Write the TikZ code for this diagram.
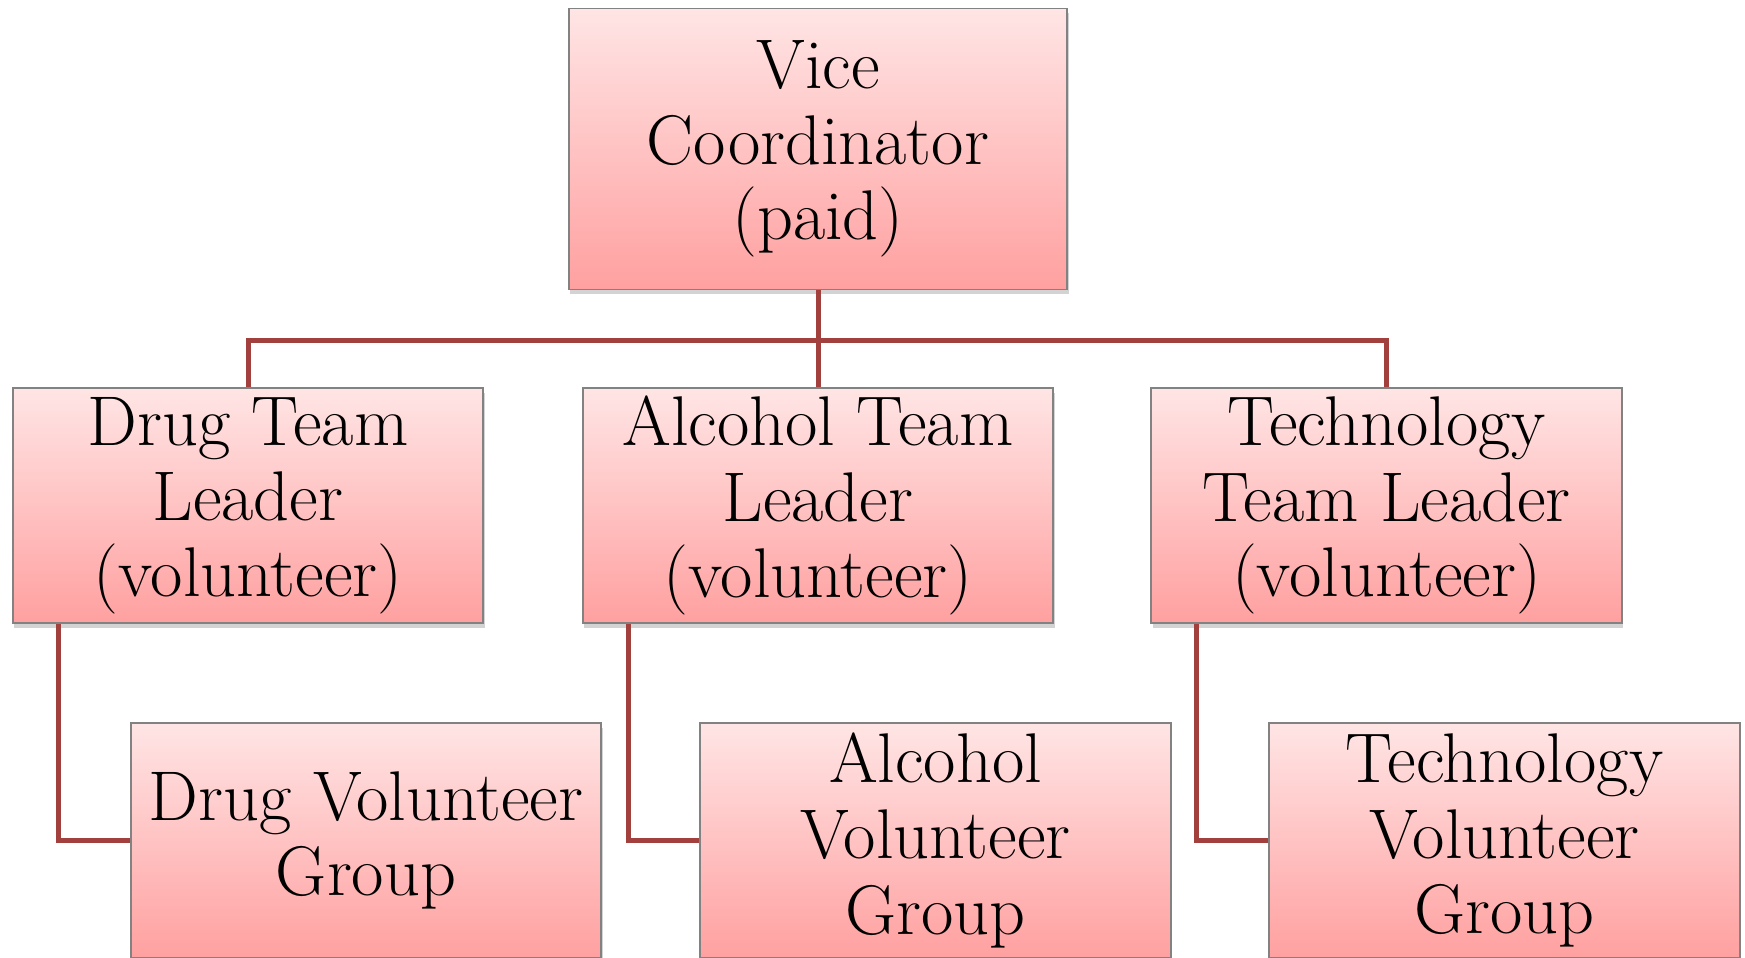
\documentclass[tikz,border=0pt]{standalone}
\usepackage{tikz}
\usetikzlibrary{shadows}
\definecolor{boxtop}{RGB}{255,229,229}
\definecolor{boxbot}{RGB}{255,160,160}
\definecolor{linkred}{RGB}{162,64,62}
\definecolor{boxline}{RGB}{130,130,130}

\begin{document}
\begin{tikzpicture}[x=0.01cm,y=-0.01cm,
  box/.style={draw=boxline, line width=0.5pt, top color=boxtop, bottom color=boxbot,
    minimum width=4.7cm, minimum height=2.35cm, inner sep=0pt, align=center,
    font=\fontsize{20}{21.5}\selectfont,
    drop shadow={opacity=0.35, shadow xshift=0.4pt, shadow yshift=-1.3pt}},
  link/.style={draw=linkred, line width=0.05cm}]
\useasboundingbox (0,0) rectangle (1745,958);

\node[box, minimum width=4.98cm, minimum height=2.81cm] (vc) at (818,149) {Vice\\Coordinator\\(paid)};

\node[box] (dl) at (248,505.5) {Drug Team\\Leader\\(volunteer)};
\node[box] (al) at (818,505.5) {Alcohol Team\\Leader\\(volunteer)};
\node[box] (tl) at (1386.5,505.5) {Technology\\Team Leader\\(volunteer)};

\node[box] (dg) at (366,840.5) {Drug Volunteer\\Group};
\node[box] (ag) at (935.5,840.5) {Alcohol\\Volunteer\\Group};
\node[box] (tg) at (1504.5,840.5) {Technology\\Volunteer\\Group};

\draw[link] (vc.south) -- ++(0,50) -| (dl.north);
\draw[link] (vc.south) -- ++(0,50) -| (tl.north);
\draw[link] (vc.south) -- (al.north);

\foreach \a/\b in {dl/dg,al/ag,tl/tg}{
\draw[link] ([xshift=0.46cm]\a.south west) |- (\b.west);
}
\end{tikzpicture}
\end{document}
